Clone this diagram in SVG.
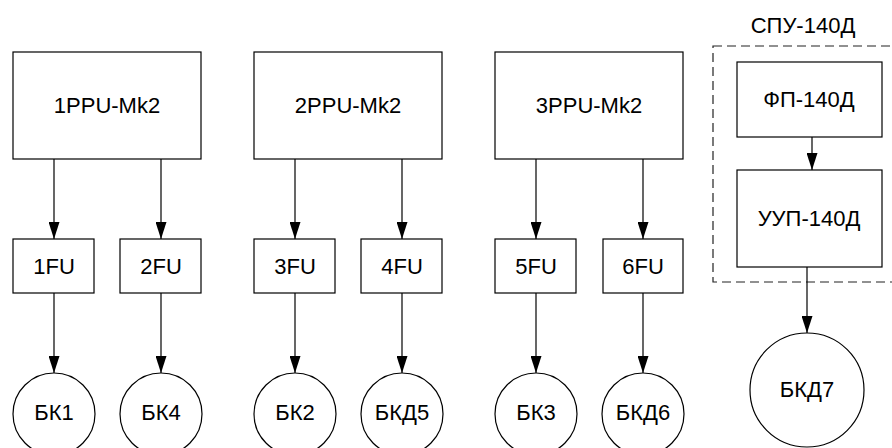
<svg xmlns="http://www.w3.org/2000/svg" width="892" height="448" viewBox="0 0 892 448">
<defs>
<marker id="arr" markerUnits="userSpaceOnUse" markerWidth="17" markerHeight="11" refX="17" refY="5.5" orient="auto" viewBox="0 0 17 11">
<path d="M0,0 L17,5.5 L0,11 Z" fill="#000"/>
</marker>
</defs>
<style>
rect.n, circle.n { fill: #fff; stroke: #000; stroke-width: 1.2; }
text { font-family: "Liberation Sans", Arial, sans-serif; font-size: 22px; fill: #000; text-anchor: middle; }
.c line { stroke: #000; stroke-width: 1.2; marker-end: url(#arr); }
.grp { fill: none; stroke: #222; stroke-width: 1.2; stroke-dasharray: 9 5; }
</style>
<rect fill="#fff" x="0" y="0" width="892" height="448"/>
<g id="spu140d">
<rect class="grp" x="713" y="46" width="185" height="236"/>
<text x="803" y="33">СПУ-140Д</text>
</g>
<g class="c" id="connectors">
<line x1="54" y1="159" x2="54" y2="239"/>
<line x1="161" y1="159" x2="161" y2="239"/>
<line x1="295" y1="159" x2="295" y2="239"/>
<line x1="402" y1="159" x2="402" y2="239"/>
<line x1="536" y1="159" x2="536" y2="239"/>
<line x1="643" y1="159" x2="643" y2="239"/>
<line x1="54" y1="293" x2="54" y2="373"/>
<line x1="161" y1="293" x2="161" y2="373"/>
<line x1="295" y1="293" x2="295" y2="373"/>
<line x1="402" y1="293" x2="402" y2="373"/>
<line x1="536" y1="293" x2="536" y2="373"/>
<line x1="643" y1="293" x2="643" y2="373"/>
<line x1="812" y1="137" x2="812" y2="170"/>
<line x1="807" y1="267" x2="807" y2="333"/>
</g>
<g id="ppu1"><rect class="n" x="13" y="52" width="188" height="107"/><text x="107" y="113">1PPU-Mk2</text></g>
<g id="ppu2"><rect class="n" x="254" y="52" width="188" height="107"/><text x="348" y="113">2PPU-Mk2</text></g>
<g id="ppu3"><rect class="n" x="495" y="52" width="188" height="107"/><text x="589" y="113">3PPU-Mk2</text></g>
<g id="fu1"><rect class="n" x="13" y="239" width="81" height="54"/><text x="54" y="274">1FU</text></g>
<g id="fu2"><rect class="n" x="120" y="239" width="81" height="54"/><text x="161" y="274">2FU</text></g>
<g id="fu3"><rect class="n" x="254" y="239" width="81" height="54"/><text x="295" y="274">3FU</text></g>
<g id="fu4"><rect class="n" x="361" y="239" width="81" height="54"/><text x="402" y="274">4FU</text></g>
<g id="fu5"><rect class="n" x="495" y="239" width="81" height="54"/><text x="536" y="274">5FU</text></g>
<g id="fu6"><rect class="n" x="603" y="239" width="80" height="54"/><text x="643" y="274">6FU</text></g>
<g id="bk1"><circle class="n" cx="54" cy="414" r="41"/><text x="54" y="420">БК1</text></g>
<g id="bk4"><circle class="n" cx="161" cy="414" r="41"/><text x="161" y="420">БК4</text></g>
<g id="bk2"><circle class="n" cx="295" cy="414" r="41"/><text x="295" y="420">БК2</text></g>
<g id="bkd5"><circle class="n" cx="402" cy="414" r="41"/><text x="402" y="420">БКД5</text></g>
<g id="bk3"><circle class="n" cx="536" cy="414" r="41"/><text x="536" y="420">БК3</text></g>
<g id="bkd6"><circle class="n" cx="643" cy="414" r="41"/><text x="643" y="420">БКД6</text></g>
<g id="fp140d"><rect class="n" x="737" y="62" width="145" height="75"/><text x="809" y="107">ФП-140Д</text></g>
<g id="uup140d"><rect class="n" x="737" y="170" width="145" height="97"/><text x="809" y="226">УУП-140Д</text></g>
<g id="bkd7"><circle class="n" cx="807" cy="390" r="57"/><text x="807" y="397">БКД7</text></g>
</svg>
